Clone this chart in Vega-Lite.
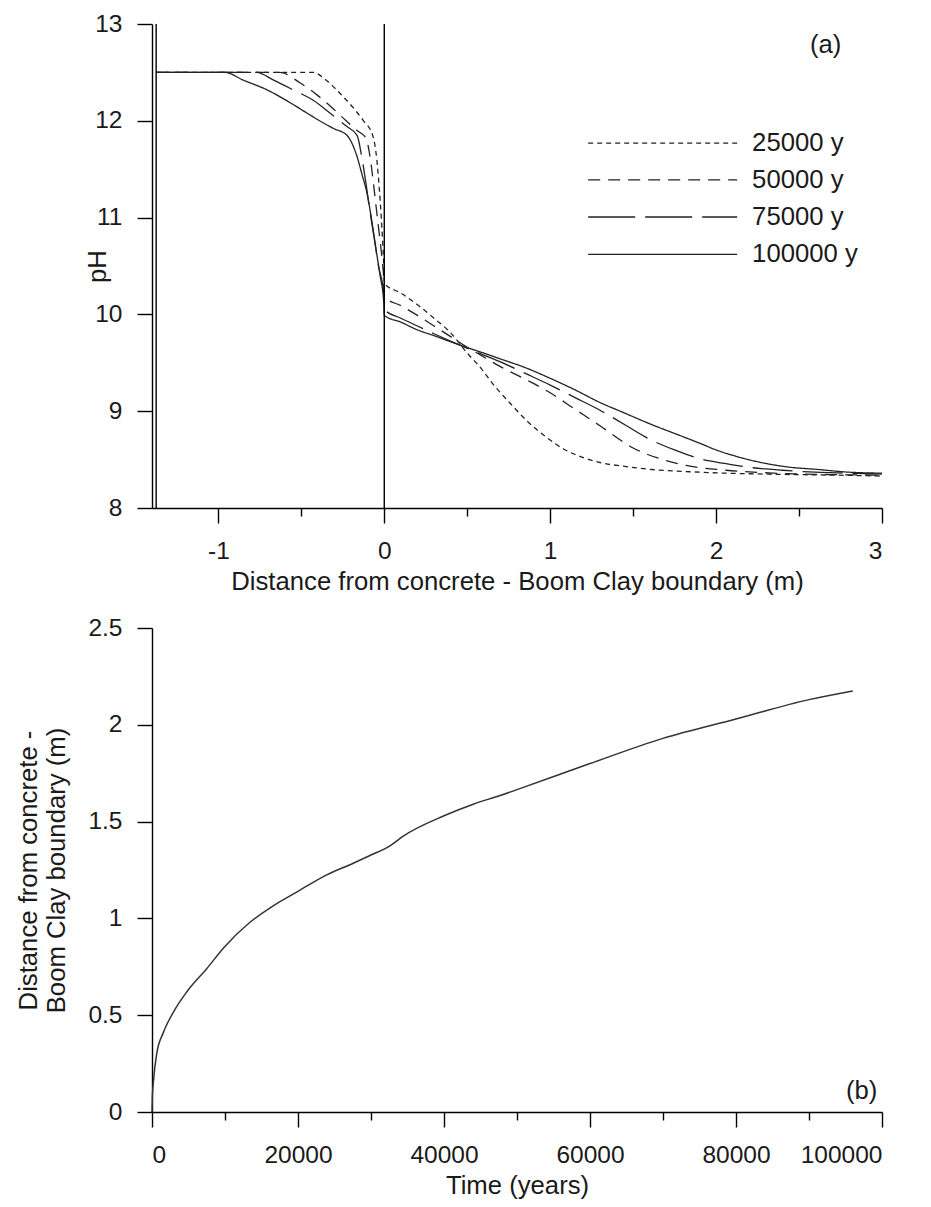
{
  "$schema": "https://vega.github.io/schema/vega-lite/v6.json",
  "background": "white",
  "padding": {"left": 14, "top": 11, "right": 5, "bottom": 5},
  "config": {
    "font": "Liberation Sans",
    "view": {"stroke": null},
    "axis": {
      "grid": false,
      "domainColor": "black", "domainWidth": 1.4,
      "tickColor": "black", "tickWidth": 1.4, "tickSize": 15,
      "labelColor": "#1a1a1a", "titleColor": "#1a1a1a",
      "labelFont": "Liberation Sans", "titleFont": "Liberation Sans",
      "labelFontSize": 24.5, "titleFontSize": 25.7, "titleFontWeight": "normal"
    },
    "concat": {"spacing": 21}
  },
  "datasets": {
    "profiles": [
      {"series": "25000 y", "x": -1.375, "pH": 12.5},
      {"series": "25000 y", "x": -0.6, "pH": 12.5},
      {"series": "25000 y", "x": -0.43, "pH": 12.5},
      {"series": "25000 y", "x": -0.35, "pH": 12.42},
      {"series": "25000 y", "x": -0.265, "pH": 12.28},
      {"series": "25000 y", "x": -0.18, "pH": 12.12},
      {"series": "25000 y", "x": -0.125, "pH": 12.0},
      {"series": "25000 y", "x": -0.07, "pH": 11.85},
      {"series": "25000 y", "x": -0.045, "pH": 11.6},
      {"series": "25000 y", "x": -0.03, "pH": 11.3},
      {"series": "25000 y", "x": -0.018, "pH": 11.0},
      {"series": "25000 y", "x": -0.01, "pH": 10.75},
      {"series": "25000 y", "x": -0.003, "pH": 10.5},
      {"series": "25000 y", "x": 0, "pH": 10.32},
      {"series": "25000 y", "x": 0.1, "pH": 10.22},
      {"series": "25000 y", "x": 0.2, "pH": 10.1},
      {"series": "25000 y", "x": 0.3, "pH": 9.96},
      {"series": "25000 y", "x": 0.4, "pH": 9.81},
      {"series": "25000 y", "x": 0.5, "pH": 9.6},
      {"series": "25000 y", "x": 0.58, "pH": 9.45},
      {"series": "25000 y", "x": 0.66, "pH": 9.27},
      {"series": "25000 y", "x": 0.76, "pH": 9.08},
      {"series": "25000 y", "x": 0.86, "pH": 8.9},
      {"series": "25000 y", "x": 0.97, "pH": 8.74},
      {"series": "25000 y", "x": 1.08, "pH": 8.61},
      {"series": "25000 y", "x": 1.2, "pH": 8.52},
      {"series": "25000 y", "x": 1.3, "pH": 8.47},
      {"series": "25000 y", "x": 1.45, "pH": 8.43},
      {"series": "25000 y", "x": 1.6, "pH": 8.4},
      {"series": "25000 y", "x": 1.9, "pH": 8.37},
      {"series": "25000 y", "x": 2.3, "pH": 8.35},
      {"series": "25000 y", "x": 2.7, "pH": 8.34},
      {"series": "25000 y", "x": 3.0, "pH": 8.33},

      {"series": "50000 y", "x": -1.375, "pH": 12.5},
      {"series": "50000 y", "x": -0.63, "pH": 12.5},
      {"series": "50000 y", "x": -0.506, "pH": 12.39},
      {"series": "50000 y", "x": -0.4, "pH": 12.26},
      {"series": "50000 y", "x": -0.305, "pH": 12.12},
      {"series": "50000 y", "x": -0.23, "pH": 12.0},
      {"series": "50000 y", "x": -0.164, "pH": 11.9},
      {"series": "50000 y", "x": -0.11, "pH": 11.82},
      {"series": "50000 y", "x": -0.085, "pH": 11.62},
      {"series": "50000 y", "x": -0.065, "pH": 11.35},
      {"series": "50000 y", "x": -0.045, "pH": 11.05},
      {"series": "50000 y", "x": -0.028, "pH": 10.8},
      {"series": "50000 y", "x": -0.012, "pH": 10.55},
      {"series": "50000 y", "x": -0.003, "pH": 10.35},
      {"series": "50000 y", "x": 0, "pH": 10.18},
      {"series": "50000 y", "x": 0.1, "pH": 10.09},
      {"series": "50000 y", "x": 0.2, "pH": 9.99},
      {"series": "50000 y", "x": 0.3, "pH": 9.88},
      {"series": "50000 y", "x": 0.4, "pH": 9.77},
      {"series": "50000 y", "x": 0.5, "pH": 9.66},
      {"series": "50000 y", "x": 0.6, "pH": 9.56},
      {"series": "50000 y", "x": 0.7, "pH": 9.46},
      {"series": "50000 y", "x": 0.85, "pH": 9.33},
      {"series": "50000 y", "x": 1.0, "pH": 9.19},
      {"series": "50000 y", "x": 1.15, "pH": 9.02},
      {"series": "50000 y", "x": 1.3, "pH": 8.85},
      {"series": "50000 y", "x": 1.5, "pH": 8.62},
      {"series": "50000 y", "x": 1.66, "pH": 8.51},
      {"series": "50000 y", "x": 1.82, "pH": 8.44},
      {"series": "50000 y", "x": 2.06, "pH": 8.39},
      {"series": "50000 y", "x": 2.35, "pH": 8.36},
      {"series": "50000 y", "x": 2.7, "pH": 8.345},
      {"series": "50000 y", "x": 3.0, "pH": 8.34},

      {"series": "75000 y", "x": -1.375, "pH": 12.5},
      {"series": "75000 y", "x": -0.77, "pH": 12.5},
      {"series": "75000 y", "x": -0.667, "pH": 12.42},
      {"series": "75000 y", "x": -0.55, "pH": 12.32},
      {"series": "75000 y", "x": -0.426, "pH": 12.21},
      {"series": "75000 y", "x": -0.32, "pH": 12.07},
      {"series": "75000 y", "x": -0.225, "pH": 11.94},
      {"series": "75000 y", "x": -0.164, "pH": 11.85},
      {"series": "75000 y", "x": -0.135, "pH": 11.62},
      {"series": "75000 y", "x": -0.11, "pH": 11.35},
      {"series": "75000 y", "x": -0.085, "pH": 11.05},
      {"series": "75000 y", "x": -0.06, "pH": 10.78},
      {"series": "75000 y", "x": -0.035, "pH": 10.5},
      {"series": "75000 y", "x": -0.003, "pH": 10.22},
      {"series": "75000 y", "x": 0, "pH": 10.05},
      {"series": "75000 y", "x": 0.1, "pH": 9.96},
      {"series": "75000 y", "x": 0.2, "pH": 9.88},
      {"series": "75000 y", "x": 0.3, "pH": 9.8},
      {"series": "75000 y", "x": 0.46, "pH": 9.68},
      {"series": "75000 y", "x": 0.6, "pH": 9.58},
      {"series": "75000 y", "x": 0.7, "pH": 9.51},
      {"series": "75000 y", "x": 0.85, "pH": 9.39},
      {"series": "75000 y", "x": 1.0, "pH": 9.27},
      {"series": "75000 y", "x": 1.15, "pH": 9.14},
      {"series": "75000 y", "x": 1.3, "pH": 9.01},
      {"series": "75000 y", "x": 1.45, "pH": 8.86},
      {"series": "75000 y", "x": 1.6, "pH": 8.71},
      {"series": "75000 y", "x": 1.75, "pH": 8.6},
      {"series": "75000 y", "x": 1.9, "pH": 8.51},
      {"series": "75000 y", "x": 2.05, "pH": 8.46},
      {"series": "75000 y", "x": 2.2, "pH": 8.42},
      {"series": "75000 y", "x": 2.4, "pH": 8.39},
      {"series": "75000 y", "x": 2.6, "pH": 8.37},
      {"series": "75000 y", "x": 2.8, "pH": 8.36},
      {"series": "75000 y", "x": 3.0, "pH": 8.35},

      {"series": "100000 y", "x": -1.375, "pH": 12.5},
      {"series": "100000 y", "x": -0.96, "pH": 12.5},
      {"series": "100000 y", "x": -0.85, "pH": 12.42},
      {"series": "100000 y", "x": -0.707, "pH": 12.32},
      {"series": "100000 y", "x": -0.58, "pH": 12.2},
      {"series": "100000 y", "x": -0.466, "pH": 12.08},
      {"series": "100000 y", "x": -0.38, "pH": 11.99},
      {"series": "100000 y", "x": -0.305, "pH": 11.92},
      {"series": "100000 y", "x": -0.225, "pH": 11.85},
      {"series": "100000 y", "x": -0.19, "pH": 11.75},
      {"series": "100000 y", "x": -0.164, "pH": 11.63},
      {"series": "100000 y", "x": -0.135, "pH": 11.45},
      {"series": "100000 y", "x": -0.104, "pH": 11.25},
      {"series": "100000 y", "x": -0.08, "pH": 11.02},
      {"series": "100000 y", "x": -0.064, "pH": 10.84},
      {"series": "100000 y", "x": -0.045, "pH": 10.62},
      {"series": "100000 y", "x": -0.025, "pH": 10.4},
      {"series": "100000 y", "x": -0.003, "pH": 10.12},
      {"series": "100000 y", "x": 0, "pH": 9.99},
      {"series": "100000 y", "x": 0.1, "pH": 9.92},
      {"series": "100000 y", "x": 0.2, "pH": 9.84},
      {"series": "100000 y", "x": 0.3, "pH": 9.78},
      {"series": "100000 y", "x": 0.46, "pH": 9.68},
      {"series": "100000 y", "x": 0.6, "pH": 9.6},
      {"series": "100000 y", "x": 0.7, "pH": 9.54},
      {"series": "100000 y", "x": 0.85, "pH": 9.45},
      {"series": "100000 y", "x": 1.0, "pH": 9.34},
      {"series": "100000 y", "x": 1.15, "pH": 9.22},
      {"series": "100000 y", "x": 1.3, "pH": 9.09},
      {"series": "100000 y", "x": 1.45, "pH": 8.98},
      {"series": "100000 y", "x": 1.6, "pH": 8.87},
      {"series": "100000 y", "x": 1.75, "pH": 8.77},
      {"series": "100000 y", "x": 1.9, "pH": 8.67},
      {"series": "100000 y", "x": 2.0, "pH": 8.6},
      {"series": "100000 y", "x": 2.15, "pH": 8.52},
      {"series": "100000 y", "x": 2.3, "pH": 8.46},
      {"series": "100000 y", "x": 2.45, "pH": 8.42},
      {"series": "100000 y", "x": 2.6, "pH": 8.4},
      {"series": "100000 y", "x": 2.8, "pH": 8.37},
      {"series": "100000 y", "x": 3.0, "pH": 8.36}
    ],
    "front": [
      {"t": 0, "d": 0},
      {"t": 50, "d": 0.08},
      {"t": 180, "d": 0.15},
      {"t": 640, "d": 0.3},
      {"t": 1550, "d": 0.41},
      {"t": 2920, "d": 0.515},
      {"t": 4750, "d": 0.62},
      {"t": 7490, "d": 0.74},
      {"t": 9860, "d": 0.85},
      {"t": 13420, "d": 0.98},
      {"t": 16600, "d": 1.065},
      {"t": 20000, "d": 1.14},
      {"t": 23930, "d": 1.225},
      {"t": 27570, "d": 1.285},
      {"t": 29860, "d": 1.325},
      {"t": 32600, "d": 1.375},
      {"t": 34420, "d": 1.425},
      {"t": 40000, "d": 1.53},
      {"t": 44000, "d": 1.59},
      {"t": 47700, "d": 1.635},
      {"t": 50000, "d": 1.665},
      {"t": 60000, "d": 1.8},
      {"t": 70000, "d": 1.93},
      {"t": 80000, "d": 2.03},
      {"t": 90000, "d": 2.13},
      {"t": 96000, "d": 2.175}
    ]
  },
  "vconcat": [
    {
      "width": 730,
      "height": 484,
      "layer": [
        {
          "data": {"name": "profiles"},
          "mark": {"type": "line", "color": "#222", "strokeWidth": 1.3, "interpolate": "monotone"},
          "encoding": {
            "x": {
              "field": "x", "type": "quantitative",
              "scale": {"domain": [-1.4, 3], "nice": false, "zero": false},
              "axis": {
                "title": "Distance from concrete - Boom Clay boundary (m)",
                "values": [-1, -0.5, 0, 0.5, 1, 1.5, 2, 2.5, 3],
                "labelExpr": "datum.value % 1 === 0 ? toString(datum.value) : ''",
                "tickSize": {"condition": {"test": "datum.value % 1 !== 0", "value": 8}, "value": 15},
                "labelPadding": 16,
                "titleY": 81, "titleBaseline": "alphabetic"
              }
            },
            "y": {
              "field": "pH", "type": "quantitative",
              "scale": {"domain": [8, 13], "nice": false, "zero": false},
              "axis": {
                "title": "pH",
                "values": [8, 9, 10, 11, 12, 13],
                "format": "~g",
                "labelPadding": 15,
                "titleX": -55, "titleY": 242, "titleBaseline": "middle"
              }
            },
            "strokeDash": {
              "field": "series", "type": "nominal",
              "scale": {
                "domain": ["25000 y", "50000 y", "75000 y", "100000 y"],
                "range": [[5, 4], [12, 8], [40, 10], [1, 0]]
              },
              "legend": null
            }
          }
        },
        {
          "data": {"values": [{}]},
          "mark": {"type": "rule", "color": "black", "strokeWidth": 1.4},
          "encoding": {"x": {"datum": 0}}
        },
        {
          "data": {"values": [{}]},
          "mark": {"type": "rule", "color": "black", "strokeWidth": 1.4},
          "encoding": {"x": {"datum": -1.375}}
        },
        {
          "data": {"values": [{}]},
          "mark": {"type": "rule", "color": "#222", "strokeWidth": 1.3, "strokeDash": [5, 4]},
          "encoding": {"x": {"datum": 1.229}, "x2": {"datum": 2.127}, "y": {"datum": 11.77}}
        },
        {
          "data": {"values": [{}]},
          "mark": {"type": "rule", "color": "#222", "strokeWidth": 1.3, "strokeDash": [12, 8]},
          "encoding": {"x": {"datum": 1.229}, "x2": {"datum": 2.127}, "y": {"datum": 11.39}}
        },
        {
          "data": {"values": [{}]},
          "mark": {"type": "rule", "color": "#222", "strokeWidth": 1.3, "strokeDash": [47, 10]},
          "encoding": {"x": {"datum": 1.229}, "x2": {"datum": 2.127}, "y": {"datum": 11.006}}
        },
        {
          "data": {"values": [{}]},
          "mark": {"type": "rule", "color": "#222", "strokeWidth": 1.3},
          "encoding": {"x": {"datum": 1.229}, "x2": {"datum": 2.127}, "y": {"datum": 10.62}}
        },
        {
          "data": {"values": [{}]},
          "mark": {"type": "text", "align": "left", "baseline": "middle", "fontSize": 25.7, "color": "#1a1a1a"},
          "encoding": {"x": {"datum": 2.217}, "y": {"datum": 11.77}, "text": {"value": "25000 y"}}
        },
        {
          "data": {"values": [{}]},
          "mark": {"type": "text", "align": "left", "baseline": "middle", "fontSize": 25.7, "color": "#1a1a1a"},
          "encoding": {"x": {"datum": 2.217}, "y": {"datum": 11.39}, "text": {"value": "50000 y"}}
        },
        {
          "data": {"values": [{}]},
          "mark": {"type": "text", "align": "left", "baseline": "middle", "fontSize": 25.7, "color": "#1a1a1a"},
          "encoding": {"x": {"datum": 2.217}, "y": {"datum": 11.006}, "text": {"value": "75000 y"}}
        },
        {
          "data": {"values": [{}]},
          "mark": {"type": "text", "align": "left", "baseline": "middle", "fontSize": 25.7, "color": "#1a1a1a"},
          "encoding": {"x": {"datum": 2.217}, "y": {"datum": 10.62}, "text": {"value": "100000 y"}}
        },
        {
          "data": {"values": [{}]},
          "mark": {"type": "text", "align": "center", "baseline": "middle", "fontSize": 25.7, "color": "#1a1a1a"},
          "encoding": {"x": {"datum": 2.66}, "y": {"datum": 12.78}, "text": {"value": "(a)"}}
        }
      ]
    },
    {
      "width": 730,
      "height": 484,
      "layer": [
        {
          "data": {"name": "front"},
          "mark": {"type": "line", "color": "#333", "strokeWidth": 1.5, "interpolate": "monotone"},
          "encoding": {
            "x": {
              "field": "t", "type": "quantitative",
              "scale": {"domain": [0, 100000], "nice": false},
              "axis": {
                "title": "Time (years)",
                "values": [0, 10000, 20000, 30000, 40000, 50000, 60000, 70000, 80000, 90000, 100000],
                "labelExpr": "datum.value % 20000 === 0 ? toString(datum.value) : ''",
                "tickSize": {"condition": {"test": "datum.value % 20000 !== 0", "value": 8}, "value": 15},
                "labelPadding": 16,
                "titleY": 81, "titleBaseline": "alphabetic"
              }
            },
            "y": {
              "field": "d", "type": "quantitative",
              "scale": {"domain": [0, 2.5], "nice": false},
              "axis": {
                "title": ["Distance from concrete -", "Boom Clay boundary (m)"],
                "values": [0, 0.5, 1, 1.5, 2, 2.5],
                "format": "~g",
                "labelPadding": 15,
                "titleX": -124, "titleY": 242, "titleBaseline": "middle",
                "titleLineHeight": 28
              }
            }
          }
        },
        {
          "data": {"values": [{}]},
          "mark": {"type": "text", "align": "center", "baseline": "middle", "fontSize": 25.7, "color": "#1a1a1a"},
          "encoding": {"x": {"datum": 97220}, "y": {"datum": 0.108}, "text": {"value": "(b)"}}
        }
      ]
    }
  ]
}
